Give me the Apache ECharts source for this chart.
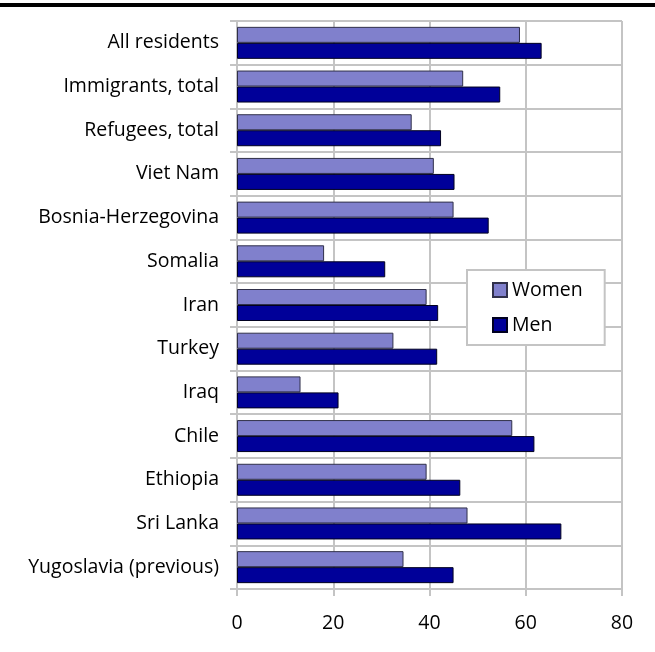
<!DOCTYPE html>
<html>
<head>
<meta charset="utf-8">
<script src="https://cdn.jsdelivr.net/npm/echarts@6/dist/echarts.min.js"></script>
<style>
  html, body { margin: 0; padding: 0; background: #fff; }
  #chart { width: 655px; height: 652px; }
</style>
</head>
<body>
<div id="chart"></div>
<script>
const categories = [
  'All residents', 'Immigrants, total', 'Refugees, total', 'Viet Nam',
  'Bosnia-Herzegovina', 'Somalia', 'Iran', 'Turkey', 'Iraq', 'Chile',
  'Ethiopia', 'Sri Lanka', 'Yugoslavia (previous)'
]
const women = [58.8, 47.0, 36.3, 40.9, 45.0, 18.1, 39.4, 32.5, 13.2, 57.2, 39.4, 47.9, 34.6]
const men = [63.3, 54.7, 42.4, 45.2, 52.3, 30.8, 41.8, 41.6, 21.1, 61.8, 46.4, 67.4, 45.0]
const xTicks = [0, 20, 40, 60, 80]

const font = 'Open Sans'
const gridColor = '#c4c4c4'

const chart = echarts.init(document.getElementById('chart'))
chart.setOption({
  animation: false,
  textStyle: { fontFamily: font },
  graphic: [{
    type: 'line',
    shape: { x1: 0, y1: 5, x2: 655, y2: 5 },
    style: { stroke: '#000', lineWidth: 4 }
  }],
  grid: { left: 237, right: 33, top: 21, bottom: 63 },
  legend: {
    orient: 'vertical',
    left: 467,
    top: 270,
    backgroundColor: '#fff',
    borderColor: gridColor,
    borderWidth: 2,
    padding: [10, 22, 10, 25],
    itemGap: 15,
    itemWidth: 14,
    itemHeight: 14,
    icon: 'rect',
    textStyle: { fontFamily: font, fontSize: 19.5, color: '#000', lineHeight: 20 },
    data: ['Women', 'Men']
  },
  xAxis: {
    type: 'value',
    min: xTicks[0],
    max: xTicks[xTicks.length - 1],
    interval: 20,
    axisLine: { show: true, lineStyle: { color: gridColor, width: 2 } },
    axisTick: { show: true, length: 7, lineStyle: { color: gridColor, width: 2 } },
    splitLine: { show: true, lineStyle: { color: gridColor, width: 2 } },
    axisLabel: { color: '#000', fontSize: 19.5, margin: 24, fontFamily: font }
  },
  yAxis: {
    type: 'category',
    inverse: true,
    data: categories,
    axisLine: { show: true, lineStyle: { color: gridColor, width: 2 } },
    axisTick: { show: true, length: 7, lineStyle: { color: gridColor, width: 2 } },
    splitLine: { show: true, lineStyle: { color: gridColor, width: 2 } },
    axisLabel: { color: '#000', fontSize: 19.5, margin: 18, fontFamily: font }
  },
  series: [{
    name: 'Women',
    type: 'bar',
    data: women,
    barWidth: 16,
    barGap: '0%',
    itemStyle: { color: '#8080cc', borderColor: '#30304a', borderWidth: 1 }
  }, {
    name: 'Men',
    type: 'bar',
    data: men,
    barWidth: 16,
    barGap: '0%',
    itemStyle: { color: '#000099', borderColor: '#000020', borderWidth: 1 }
  }]
})
</script>
</body>
</html>
